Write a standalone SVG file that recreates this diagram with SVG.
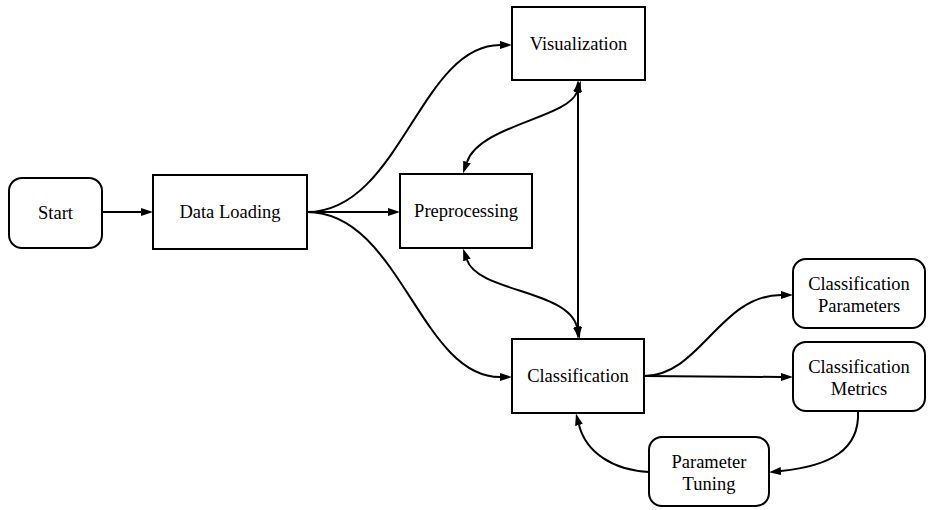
<svg xmlns="http://www.w3.org/2000/svg" width="930" height="510" viewBox="0 0 930 510">
<style>
.n{fill:#fff;stroke:#000;stroke-width:2}
.t{font-family:"Liberation Serif","Times New Roman",serif;font-size:18.5px;fill:#000;text-anchor:middle}
.e{fill:none;stroke:#000;stroke-width:2;marker-end:url(#ah)}
.b{marker-start:url(#ah)}
</style>
<defs>
<marker id="ah" viewBox="0 0 12 8" refX="0" refY="4" markerWidth="12" markerHeight="8" markerUnits="userSpaceOnUse" orient="auto-start-reverse">
<path d="M0,0 L12,4 L0,8 z" fill="#000"/>
</marker>
</defs>
<rect width="930" height="510" fill="#fff"/>
<g id="connectors">
<path class="e" d="M102,212 L141,212"/>
<path class="e" d="M307,212 C400,212 420,45 500,45"/>
<path class="e" d="M307,212 L388,212"/>
<path class="e" d="M307,212 C400,212 420,377 500,377"/>
<path class="e b" d="M577,92 C568,118 480,125 467,162"/>
<path class="e b" d="M578,92 L578,327"/>
<path class="e b" d="M467,260 C478,292 568,290 577,327"/>
<path class="e" d="M644,376 C700,376 720,295 781,295"/>
<path class="e" d="M644,376 L781,377"/>
<path class="e" d="M858,411 C860,450 830,466 781,471"/>
<path class="e" d="M649,472 C612,470 586,452 579,425"/>
</g>
<g id="start"><rect class="n" x="9" y="178" width="93" height="70" rx="13"/><text class="t" x="55.5" y="219">Start</text></g>
<g id="data-loading"><rect class="n" x="153" y="175" width="154" height="74"/><text class="t" x="230" y="218">Data Loading</text></g>
<g id="visualization"><rect class="n" x="512" y="7" width="133" height="73"/><text class="t" x="578.5" y="50">Visualization</text></g>
<g id="preprocessing"><rect class="n" x="400" y="174" width="132" height="74"/><text class="t" x="466" y="217">Preprocessing</text></g>
<g id="classification"><rect class="n" x="512" y="339" width="132" height="74"/><text class="t" x="578" y="382">Classification</text></g>
<g id="classification-parameters"><rect class="n" x="793" y="259" width="132" height="69" rx="13"/><text class="t" x="859" y="290">Classification</text><text class="t" x="859" y="312">Parameters</text></g>
<g id="classification-metrics"><rect class="n" x="793" y="342" width="132" height="69" rx="13"/><text class="t" x="859" y="373">Classification</text><text class="t" x="859" y="395">Metrics</text></g>
<g id="parameter-tuning"><rect class="n" x="649" y="437" width="120" height="69" rx="13"/><text class="t" x="709" y="468">Parameter</text><text class="t" x="709" y="490">Tuning</text></g>
</svg>
